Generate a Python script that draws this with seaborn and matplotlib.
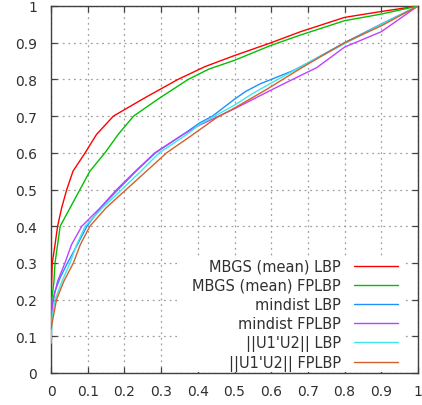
import numpy as np
import pandas as pd
import matplotlib
matplotlib.use("Agg")
import matplotlib.pyplot as plt
import seaborn as sns
from matplotlib.patches import Rectangle

# ---------------- data ----------------
labels = ["MBGS (mean) LBP", "MBGS (mean) FPLBP", "mindist LBP",
          "mindist FPLBP", "||U1'U2|| LBP", "||U1'U2|| FPLBP"]
colors = ["#ff0000", "#00c000", "#1e90ff", "#c040ff", "#40e8e8", "#d2602a"]

red_x = [0, 0.0035, 0.011, 0.018, 0.029, 0.043, 0.06, 0.093, 0.124, 0.17, 0.256, 0.346, 0.42, 0.5, 0.6, 0.68, 0.8, 0.9, 1]
red_y = [0.2, 0.3, 0.35, 0.4, 0.45, 0.5, 0.55, 0.6, 0.65, 0.7, 0.75, 0.8, 0.835, 0.865, 0.9, 0.93, 0.969, 0.985, 1]

green_x = [0, 0.008, 0.011, 0.018, 0.025, 0.052, 0.079, 0.106, 0.147, 0.183, 0.225, 0.297, 0.374, 0.43, 0.5, 0.6, 0.68, 0.8, 0.9, 1]
green_y = [0.18, 0.25, 0.3, 0.35, 0.4, 0.45, 0.5, 0.55, 0.6, 0.65, 0.7, 0.75, 0.8, 0.828, 0.852, 0.893, 0.921, 0.96, 0.978, 1]

blue_x = [0, 0.003, 0.01, 0.025, 0.045, 0.072, 0.098, 0.135, 0.183, 0.232, 0.285, 0.36, 0.406, 0.44, 0.47, 0.5, 0.53, 0.57, 0.6, 0.66, 0.7, 0.8, 0.9, 1]
blue_y = [0.14, 0.18, 0.22, 0.26, 0.3, 0.35, 0.4, 0.45, 0.5, 0.55, 0.6, 0.65, 0.682, 0.70, 0.723, 0.746, 0.767, 0.788, 0.80, 0.824, 0.845, 0.9, 0.951, 1]

mag_x = [0, 0.006, 0.018, 0.038, 0.056, 0.084, 0.134, 0.179, 0.23, 0.283, 0.36, 0.406, 0.5, 0.588, 0.642, 0.724, 0.8, 0.9, 1]
mag_y = [0.15, 0.2, 0.25, 0.3, 0.35, 0.4, 0.45, 0.5, 0.55, 0.6, 0.65, 0.676, 0.72, 0.765, 0.792, 0.832, 0.888, 0.93, 1]

cyan_x = [0, 0.003, 0.011, 0.03, 0.052, 0.07, 0.093, 0.14, 0.193, 0.245, 0.295, 0.37, 0.406, 0.5, 0.55, 0.6, 0.7, 0.8, 0.9, 1]
cyan_y = [0.08, 0.15, 0.2, 0.25, 0.3, 0.35, 0.4, 0.45, 0.5, 0.55, 0.6, 0.65, 0.678, 0.73, 0.762, 0.79, 0.845, 0.897, 0.95, 1]

brown_x = [0, 0.015, 0.035, 0.061, 0.08, 0.106, 0.15, 0.205, 0.26, 0.315, 0.38, 0.45, 0.5, 0.588, 0.68, 0.8, 0.9, 1]
brown_y = [0.12, 0.2, 0.25, 0.3, 0.35, 0.4, 0.45, 0.5, 0.55, 0.6, 0.645, 0.695, 0.722, 0.773, 0.83, 0.9, 0.946, 1]

tick_vals = [0, 0.1, 0.2, 0.3, 0.4, 0.5, 0.6, 0.7, 0.8, 0.9, 1]
tick_labels = ["0", "0.1", "0.2", "0.3", "0.4", "0.5", "0.6", "0.7", "0.8", "0.9", "1"]

series = [(red_x, red_y), (green_x, green_y), (blue_x, blue_y),
          (mag_x, mag_y), (cyan_x, cyan_y), (brown_x, brown_y)]

frames = []
for lab, (xs, ys) in zip(labels, series):
    frames.append(pd.DataFrame({"fpr": xs, "tpr": ys, "method": lab}))
df = pd.concat(frames, ignore_index=True)

# ---------------- figure ----------------
sns.set_style("white")
plt.rcParams["font.family"] = ["DejaVu Sans"]

fig = plt.figure(figsize=(4.22, 4.06), dpi=100)
ax = fig.add_axes([51 / 422, 1 - 374 / 406, 367 / 422, 367 / 406])

sns.lineplot(data=df, x="fpr", y="tpr", hue="method", hue_order=labels,
             palette=colors, sort=False, estimator=None, units="method",
             linewidth=1.0, ax=ax, legend=True, zorder=3)

ax.set_xlim(0, 1)
ax.set_ylim(0, 1)
ax.set_xlabel("")
ax.set_ylabel("")
ax.set_xticks(tick_vals)
ax.set_yticks(tick_vals)
ax.set_xticklabels(tick_labels)
ax.set_yticklabels(tick_labels)

ax.grid(True, color="#a0a0a0", linestyle=(0, (1.5, 3)), linewidth=0.9, zorder=0)
ax.set_axisbelow(True)

for s in ax.spines.values():
    s.set_color("#404040")
    s.set_linewidth(1.0)
    s.set_visible(True)

ax.tick_params(axis="both", which="major", direction="in", length=4, width=0.9,
               color="#404040", labelsize=10, labelcolor="#303030",
               top=True, right=True, bottom=True, left=True)
ax.tick_params(axis="y", pad=10)
ax.tick_params(axis="x", pad=8)

# white box behind the legend (hides the grid)
ax.add_patch(Rectangle((0.343, 0.003), 0.62, 0.316, transform=ax.transAxes,
                       facecolor="white", edgecolor="none", zorder=2))

handles, labs = ax.get_legend_handles_labels()
leg = ax.legend(handles, labs, loc="lower right", bbox_to_anchor=(0.9455, 0.0065),
                frameon=False, markerfirst=False, fontsize=10.5,
                handlelength=3.0, handletextpad=0.9, labelspacing=0.27,
                borderpad=0.0, borderaxespad=0.0)
for t in leg.get_texts():
    t.set_color("#303030")
leg.set_zorder(5)

fig.savefig("out.png", dpi=100, facecolor="white")
